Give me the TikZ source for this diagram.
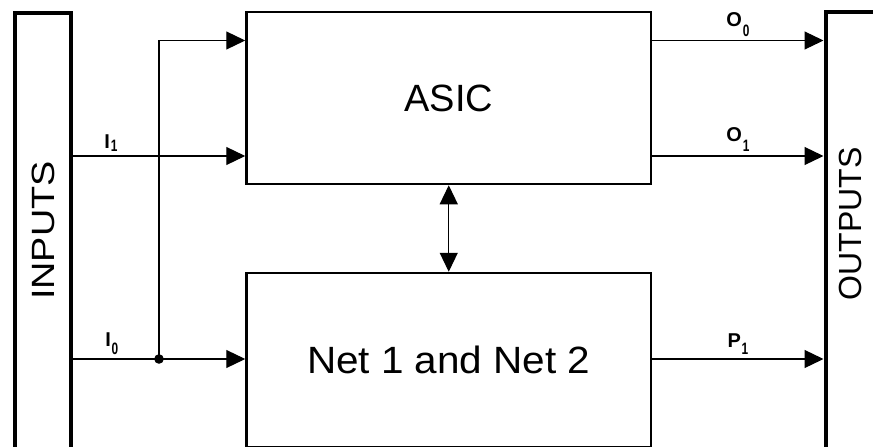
\documentclass[tikz,border=0pt]{standalone}
\usepackage{fontspec}
\setmainfont{Liberation Sans}
\usetikzlibrary{arrows.meta}
% signal name with a lowered, narrow index: #1 letter, #2 index, #3 drop in pt
\newcommand{\sigl}[3]{{\fontsize{20}{20}\selectfont\bfseries #1}\kern0.8pt\raisebox{-#3pt}{\scalebox{0.72}[1]{\fontsize{16.5}{16.5}\selectfont\bfseries #2}}}

\begin{document}
\begin{tikzpicture}[x=1pt,y=-1pt,
  thickbox/.style={draw, line width=4pt, rectangle, inner sep=0pt},
  blockbox/.style={draw, line width=2.5pt, rectangle, inner sep=0pt,
                   font=\fontsize{38}{38}\selectfont},
  sigline/.style={line width=1.2pt, -{Triangle[length=19pt,width=18pt]}},
  siglbl/.style={anchor=south, inner sep=0pt, yshift=3.5pt}
]
\useasboundingbox (0,0) rectangle (873,447);
\clip (0,0) rectangle (873,447);

% side bars
\node[thickbox, minimum width=56pt, minimum height=436pt,
      font=\fontsize{35}{35}\selectfont] (inputs) at (43,230.5)
      {\rotatebox{90}{\scalebox{1.08}[0.92]{INPUTS}}};
\node[thickbox, minimum width=64.5pt, minimum height=436.5pt] (outputs) at (857.75,230.25) {};
\node[inner sep=0pt, font=\fontsize{32}{32}\selectfont] (outtext) at (850,224) {\rotatebox{90}{OUTPUTS}};

% blocks
\node[blockbox, minimum width=404.5pt, minimum height=172pt] (asic) at (448.75,98) {ASIC};
\node[blockbox, minimum width=404.5pt, minimum height=174pt] (net) at (448.75,360)
      {\scalebox{1.065}[1]{Net 1 and Net 2}};

% signal rows
\coordinate (j) at (159,359);
\coordinate (ya) at (0,40.5);
\coordinate (yb) at (0,156);

\draw[sigline] (inputs.east |- yb) -- node[siglbl, pos=0.22]{\sigl{I}{1}{3}} (asic.west |- yb);
\draw[sigline] (inputs.east |- j) -- node[siglbl, pos=0.225]{\sigl{I}{0}{8}} (net.west |- j);
\draw[sigline] (j) |- (asic.west |- ya);
\fill (j) circle[radius=4.8pt];

\draw[sigline] (asic.east |- ya) -- node[siglbl]{\sigl{O}{0}{10}} (outputs.west |- ya);
\draw[sigline] (asic.east |- yb) -- node[siglbl]{\sigl{O}{1}{10}} (outputs.west |- yb);
\draw[sigline] (net.east |- j) -- node[siglbl]{\sigl{P}{1}{7}} (outputs.west |- j);

% link between the two blocks
\draw[line width=1.2pt, {Triangle[length=19pt,width=18pt]}-{Triangle[length=19pt,width=18pt]}] (asic.south) -- (net.north);
\end{tikzpicture}
\end{document}
